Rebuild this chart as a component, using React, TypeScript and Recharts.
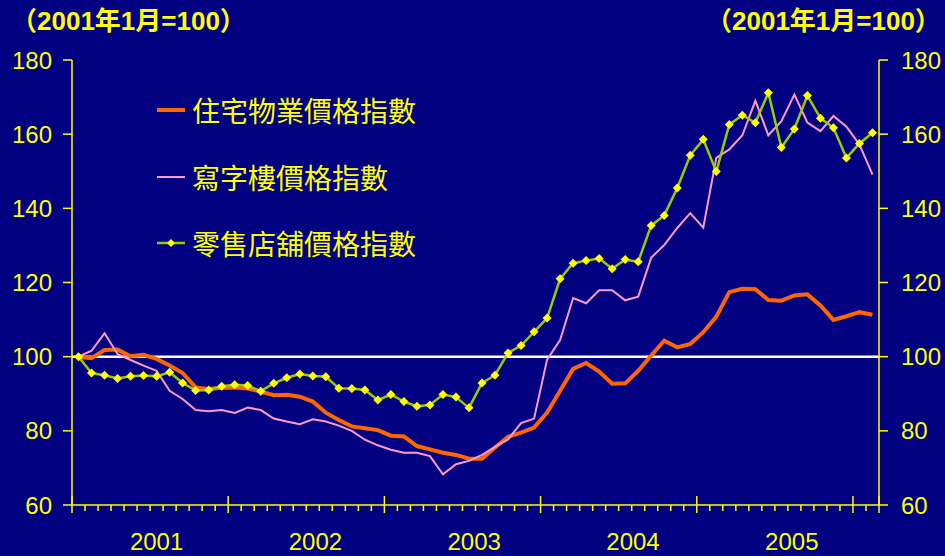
import { LineChart, Line, XAxis, YAxis, ReferenceLine, Legend } from 'recharts';

// monthly index, Jan 2001 = 100
const months = Array.from({ length: 62 }, (_, i) => `${2001 + Math.floor(i / 12)}-${String((i % 12) + 1).padStart(2, '0')}`);

const residential = [
  100, 99.6, 101.8, 101.9, 100.1, 100.5, 99.4, 97.6, 95.6, 91.7,
  91.3, 91.6, 91.7, 91.4, 90.6, 89.6, 89.7, 89.2, 87.9, 84.9,
  82.9, 81.2, 80.7, 80.2, 78.7, 78.5, 75.9, 75.0, 74.1, 73.5,
  72.5, 72.5, 75.5, 78.4, 79.5, 80.9, 84.9, 90.8, 96.7, 98.3,
  96.0, 92.7, 92.8, 96.2, 100.3, 104.3, 102.5, 103.4, 106.6, 110.8,
  117.4, 118.3, 118.2, 115.3, 115.1, 116.5, 116.8, 113.8, 109.9, 110.9,
  112.0, 111.3,
];

const office = [
  100, 101.6, 106.3, 100.7, 99.1, 97.6, 96.2, 90.8, 88.6, 85.6,
  85.3, 85.6, 84.8, 86.3, 85.6, 83.3, 82.5, 81.8, 83.1, 82.5,
  81.4, 80.0, 77.6, 76.1, 74.9, 74.1, 74.1, 73.2, 68.3, 71.0,
  71.9, 73.5, 75.7, 77.7, 82.1, 83.3, 99.2, 104.5, 115.8, 114.4,
  117.9, 117.9, 115.2, 116.2, 126.7, 130.1, 134.7, 138.7, 134.8, 153.6,
  155.9, 159.7, 169.0, 159.7, 163.5, 170.7, 163.1, 160.8, 164.9, 162.0,
  157.2, 149.1,
];

const retail = [
  100, 95.6, 95.0, 94.1, 94.7, 94.9, 94.7, 95.8, 92.9, 90.9,
  91.0, 92.0, 92.4, 92.2, 90.7, 92.8, 94.3, 95.3, 94.8, 94.6,
  91.5, 91.4, 91.0, 88.3, 89.8, 87.9, 86.6, 87.0, 89.8, 89.1,
  86.2, 92.9, 95.0, 101.0, 103.0, 106.7, 110.4, 121.0, 125.2, 125.9,
  126.5, 123.7, 126.2, 125.6, 135.4, 138.1, 145.5, 154.3, 158.6, 149.9,
  162.6, 165.1, 163.1, 171.2, 156.4, 161.4, 170.4, 164.3, 161.7, 153.6,
  157.5, 160.4,
];

const yearLabels = ['2001', '2002', '2003', '2004', '2005'];
const yTicks = [60, 80, 100, 120, 140, 160, 180];
const baseLabel = '（2001年1月=100）';

const data = months.map((month, i) => ({
  i,
  month,
  residential: residential[i],
  office: office[i],
  retail: retail[i],
}));

const YELLOW = '#ffff00';
const NUM_FONT = '"Liberation Sans", Arial, sans-serif';
const CJK_FONT = '"Noto Sans CJK TC", "Noto Sans CJK SC", sans-serif';

// tick marks sit on month boundaries, year labels float under each year
const monthEdges = Array.from({ length: months.length + 1 }, (_, k) => k - 0.5);
const yearPos = yearLabels.map((_, k) => 6 + 12.2 * k);
const xTicks = [...monthEdges, ...yearPos].sort((a, b) => a - b);

const XTick = ({ x, y, payload }: any) => {
  const v = payload.value;
  const k = yearPos.findIndex((p) => Math.abs(p - v) < 1e-6);
  if (k >= 0) {
    return (
      <text x={x} y={y + 36} dy="0.355em" textAnchor="middle" fill={YELLOW} fontSize={24} fontFamily={NUM_FONT}>
        {yearLabels[k]}
      </text>
    );
  }
  const edge = Math.round(v + 0.5);
  const major = edge % 12 === 0 || edge === months.length;
  return <line x1={x} x2={x} y1={major ? y - 9 : y} y2={y + (major ? 8 : 6)} stroke={YELLOW} strokeWidth={1.5} />;
};

const Diamond = ({ cx, cy, index }: any) => {
  if (cx == null || cy == null) return null;
  const r = 4.5;
  return <polygon key={index} points={`${cx},${cy - r} ${cx + r},${cy} ${cx},${cy + r} ${cx - r},${cy}`} fill={YELLOW} />;
};

const LegendContent = ({ payload }: any) => (
  <div>
    {(payload || []).map((entry: any) => {
      const isRetail = entry.dataKey === 'retail';
      const w = entry.dataKey === 'residential' ? 4 : isRetail ? 2.5 : 2;
      return (
        <div key={entry.dataKey} style={{ display: 'flex', alignItems: 'center', height: 66.5 }}>
          <svg width={28} height={12} style={{ marginRight: 7 }}>
            <line x1={0} x2={28} y1={6} y2={6} stroke={entry.color} strokeWidth={w} />
            {isRetail && <polygon points="14,2 18,6 14,10 10,6" fill={YELLOW} />}
          </svg>
          <span style={{ color: YELLOW, fontSize: 28, fontFamily: CJK_FONT, lineHeight: '34px' }}>{entry.value}</span>
        </div>
      );
    })}
  </div>
);

const headerStyle: React.CSSProperties = {
  position: 'absolute',
  top: 6,
  color: YELLOW,
  fontSize: 26,
  fontWeight: 'bold',
  fontFamily: `${NUM_FONT.split(',')[0]}, ${CJK_FONT}`,
  lineHeight: '30px',
  whiteSpace: 'nowrap',
};

export default function App() {
  return (
    <div style={{ position: 'absolute', left: 0, top: 0, width: 945, height: 556, background: '#000080', overflow: 'hidden' }}>
      <div style={{ ...headerStyle, left: 11 }}>{baseLabel}</div>
      <div style={{ ...headerStyle, left: 706 }}>{baseLabel}</div>
      <LineChart width={945} height={556} data={data} margin={{ top: 60, right: 0, bottom: 0, left: 0 }}>
        <XAxis
          dataKey="i"
          type="number"
          domain={[-0.5, months.length - 0.5]}
          ticks={xTicks}
          interval={0}
          height={51}
          tickSize={0}
          tickMargin={0}
          tickLine={false}
          axisLine={{ stroke: YELLOW, strokeWidth: 1.5 }}
          tick={<XTick />}
        />
        <YAxis
          yAxisId="left"
          domain={[60, 180]}
          ticks={yTicks}
          interval={0}
          width={72}
          tickSize={9}
          tickMargin={11}
          axisLine={{ stroke: YELLOW, strokeWidth: 1.5 }}
          tickLine={{ stroke: YELLOW, strokeWidth: 1.5 }}
          tick={{ fill: YELLOW, fontSize: 24, fontFamily: NUM_FONT }}
        />
        <YAxis
          yAxisId="right"
          orientation="right"
          domain={[60, 180]}
          ticks={yTicks}
          interval={0}
          width={66}
          tickSize={9}
          tickMargin={13}
          axisLine={{ stroke: YELLOW, strokeWidth: 1.5 }}
          tickLine={{ stroke: YELLOW, strokeWidth: 1.5 }}
          tick={{ fill: YELLOW, fontSize: 24, fontFamily: NUM_FONT }}
        />
        <ReferenceLine yAxisId="left" y={100} stroke="#ffffff" strokeWidth={2.5} />
        <Legend
          layout="vertical"
          align="center"
          verticalAlign="middle"
          wrapperStyle={{ left: 157, top: 77, width: 300 }}
          content={<LegendContent />}
        />
        <Line
          yAxisId="left"
          dataKey="residential"
          name="住宅物業價格指數"
          type="linear"
          stroke="#ff6600"
          strokeWidth={4}
          dot={false}
          isAnimationActive={false}
        />
        <Line
          yAxisId="right"
          dataKey="office"
          name="寫字樓價格指數"
          type="linear"
          stroke="#ff99cc"
          strokeWidth={2}
          dot={false}
          isAnimationActive={false}
        />
        <Line
          yAxisId="left"
          dataKey="retail"
          name="零售店舖價格指數"
          type="linear"
          stroke="#99cc00"
          strokeWidth={2.5}
          dot={<Diamond />}
          activeDot={false}
          isAnimationActive={false}
        />
      </LineChart>
    </div>
  );
}
